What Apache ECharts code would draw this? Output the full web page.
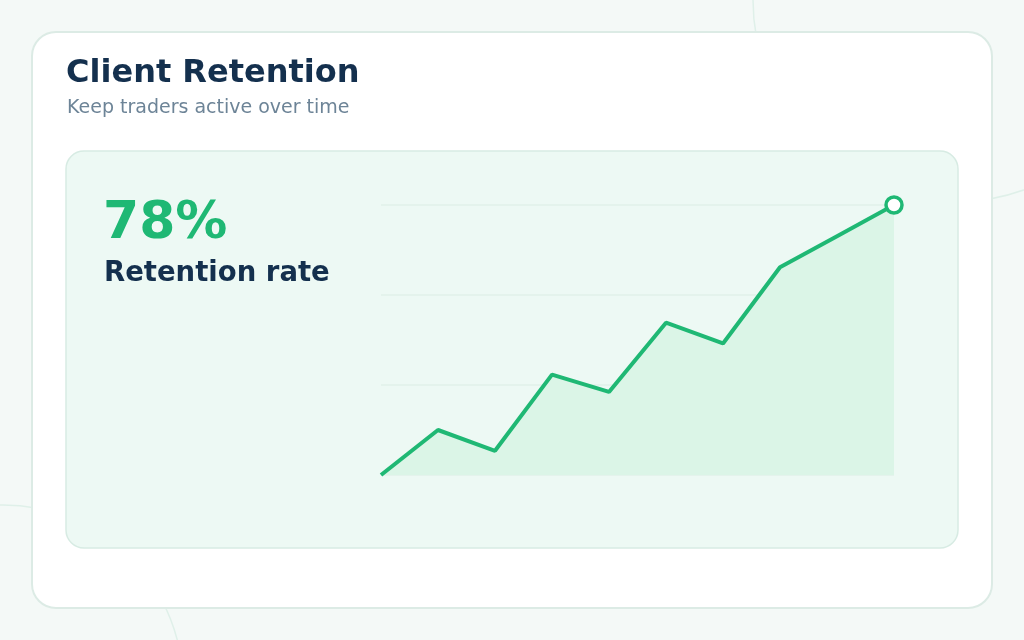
<!DOCTYPE html>
<html>
<head>
<meta charset="utf-8">
<script src="https://cdn.jsdelivr.net/npm/echarts@6/dist/echarts.min.js"></script>
<style>
  html, body { margin: 0; padding: 0; background: #f4f9f7; }
  #chart { width: 1024px; height: 640px; }
</style>
</head>
<body>
<div id="chart"></div>
<script>
// retention by period, last value is the headline figure
const periods = ['P1', 'P2', 'P3', 'P4', 'P5', 'P6', 'P7', 'P8', 'P9', 'P10'];
const retention = [0, 13, 7, 29, 24, 44, 38, 60, 69, 78];
const yTicks = [0, 26, 52, 78];

const title = 'Client Retention';
const subtitle = 'Keep traders active over time';
const kpiLabel = 'Retention rate';

const green = '#1fb874';
const navy = '#14304e';
const font = 'DejaVu Sans';

const chart = echarts.init(document.getElementById('chart'));

const last = retention.length - 1;
const lineData = retention.map((v, i) => i === last
  ? { value: v, symbol: 'circle', symbolSize: 16, itemStyle: { color: '#ffffff', borderColor: green, borderWidth: 3.5 } }
  : { value: v, symbolSize: 0 });

const option = {
  backgroundColor: '#f4f9f7',
  animation: false,
  textStyle: { fontFamily: font },
  grid: { left: 381, right: 130, top: 205, bottom: 165 },
  xAxis: {
    type: 'category',
    data: periods,
    boundaryGap: false,
    show: false
  },
  yAxis: {
    type: 'value',
    min: yTicks[0],
    max: yTicks[yTicks.length - 1],
    interval: yTicks[1] - yTicks[0],
    axisLine: { show: false },
    axisTick: { show: false },
    axisLabel: { show: false },
    splitLine: { lineStyle: { color: '#e1f1ea', width: 1.5 } }
  },
  graphic: [
    // faint background arcs
    { type: 'circle', z: -10, silent: true, shape: { cx: 955, cy: 0, r: 202 },
      style: { fill: null, stroke: '#dff0e9', lineWidth: 1.5 } },
    { type: 'circle', z: -10, silent: true, shape: { cx: 3, cy: 685, r: 180 },
      style: { fill: null, stroke: '#dff0e9', lineWidth: 1.5 } },
    // card
    { type: 'rect', z: -5, silent: true, shape: { x: 32, y: 32, width: 960, height: 576, r: 24 },
      style: { fill: '#ffffff', stroke: '#dcebe5', lineWidth: 2 } },
    // inner panel
    { type: 'rect', z: -4, silent: true, shape: { x: 66, y: 151, width: 892, height: 397, r: 18 },
      style: { fill: '#edf9f4', stroke: '#d7ebe3', lineWidth: 1.5 } },
    { type: 'text', z: 5, left: 66, top: 58,
      style: { text: title, fill: navy, font: 'bold 32px "DejaVu Sans"' } },
    { type: 'text', z: 5, left: 67, top: 99,
      style: { text: subtitle, fill: '#6d8497', font: '19px "DejaVu Sans"' } },
    { type: 'text', z: 5, left: 103, top: 198,
      style: { text: retention[last] + '%', fill: green, font: 'bold 52px "DejaVu Sans"' } },
    { type: 'text', z: 5, left: 104, top: 260,
      style: { text: kpiLabel, fill: navy, font: 'bold 27.5px "DejaVu Sans"' } }
  ],
  series: [{
    type: 'line',
    data: lineData,
    symbol: 'circle',
    showSymbol: true,
    lineStyle: { color: green, width: 4 },
    itemStyle: { color: green },
    areaStyle: { color: '#dbf5e7', opacity: 1 },
    z: 3
  }]
};

chart.setOption(option);
</script>
</body>
</html>
